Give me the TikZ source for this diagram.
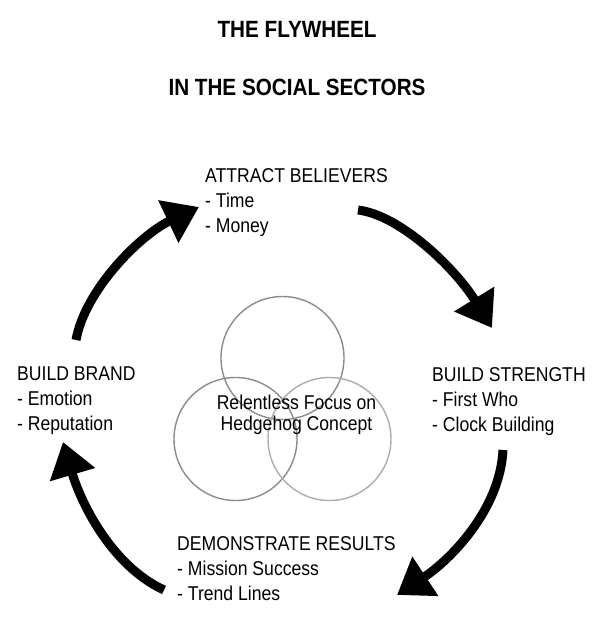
\documentclass[tikz,border=0pt]{standalone}
\usepackage{fontspec}
\setmainfont{Liberation Sans}[FakeStretch=0.88]
\newfontfamily\titlefont{Liberation Sans}[FakeStretch=0.88]
\usetikzlibrary{arrows.meta}
\begin{document}
\begin{tikzpicture}[x=1pt,y=-1pt,
  lbl/.style={inner sep=0pt, anchor=base west, align=left, font=\fontsize{20}{25}\selectfont},
  ttl/.style={inner sep=0pt, anchor=base, font=\titlefont\bfseries\fontsize{23.5}{28}\selectfont},
  ring/.style={draw=black!45, line width=1.4pt},
  flow/.style={line width=9pt, -{Triangle[length=34pt,width=45pt]}}]
\useasboundingbox (0,0) rectangle (594,622);
\fill[white] (0,0) rectangle (594,622);
% title
\node[ttl] (t1) at (297,37) {THE FLYWHEEL};
\node[ttl] (t2) at (297,95) {IN THE SOCIAL SECTORS};
% circles
\draw[ring] (282.5,358) circle[radius=61.5];
\draw[ring] (235.5,439) circle[radius=61.5];
\draw[ring, draw=black!32] (329.5,439) circle[radius=61.5];
\node[inner sep=0pt, anchor=base, align=center, font=\fontsize{20}{21}\selectfont] (hh) at (296.5,430) {Relentless Focus on\\Hedgehog Concept};
% labels (anchor = baseline of last line)
\node[lbl] (attract) at (205,232.5) {ATTRACT BELIEVERS\\- Time\\- Money};
\node[lbl] (brand) at (17,430) {BUILD BRAND\\- Emotion\\- Reputation};
\node[lbl] (strength) at (432,431) {BUILD STRENGTH\\- First Who\\- Clock Building};
\node[lbl] (results) at (177,600) {DEMONSTRATE RESULTS\\- Mission Success\\- Trend Lines};
% arrow end points
\coordinate (a1s) at (76,340);
\coordinate (a1e) at (199,207);
\coordinate (a2s) at (358,210);
\coordinate (a2e) at (492,328);
\coordinate (a3s) at (503,450);
\coordinate (a3e) at (397,595);
\coordinate (a4s) at (164,590);
\coordinate (a4e) at (63,442);
\draw[flow] (a1s) .. controls (85,290) and (140,235) .. (a1e);
\draw[flow] (a2s) .. controls (400,215) and (455,268) .. (a2e);
\draw[flow] (a3s) .. controls (500,510) and (450,560) .. (a3e);
\draw[flow] (a4s) .. controls (110,565) and (80,500) .. (a4e);
\end{tikzpicture}
\end{document}
